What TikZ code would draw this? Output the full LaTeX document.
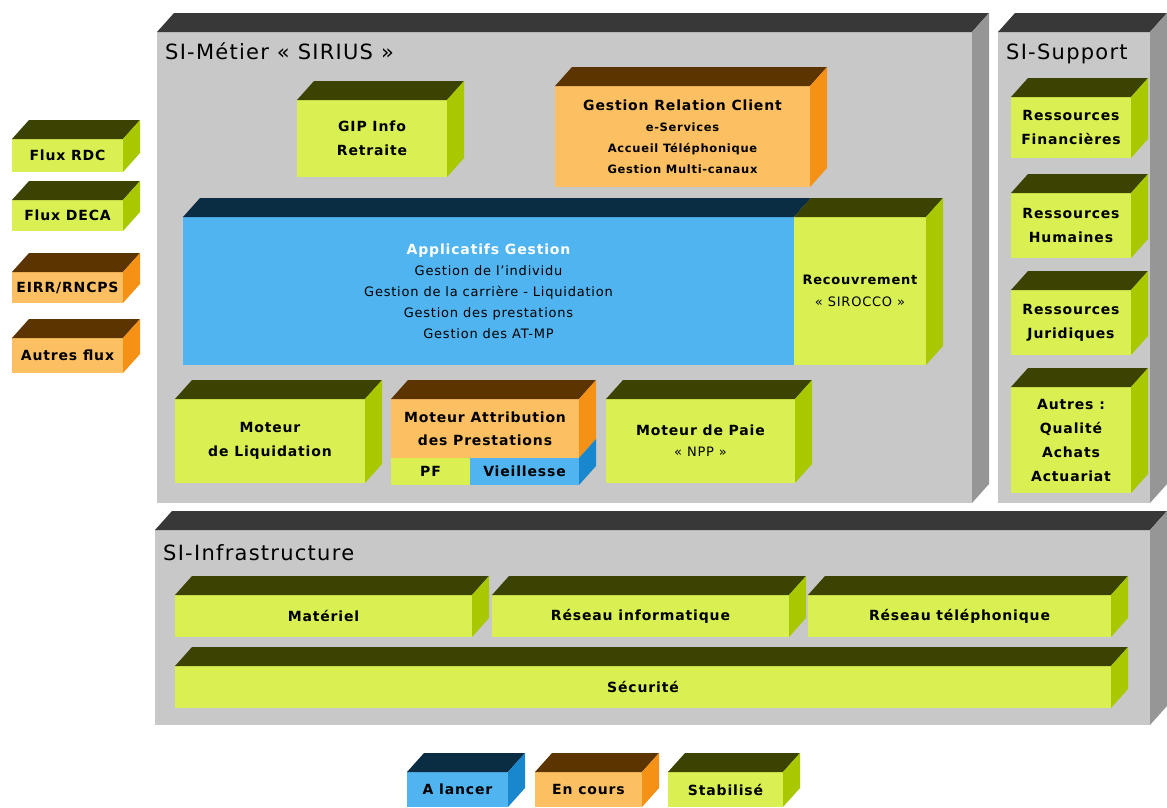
\documentclass[tikz,border=0pt]{standalone}
\usepackage{fontspec}
\setmainfont{DejaVu Sans}[LetterSpace=6]
\usepackage{xcolor}
\usepackage{tikz}

\definecolor{vertF}{RGB}{218,240,82}
\definecolor{vertT}{RGB}{60,66,0}
\definecolor{vertS}{RGB}{170,200,0}
\definecolor{orangeF}{RGB}{252,192,98}
\definecolor{orangeT}{RGB}{92,52,0}
\definecolor{orangeS}{RGB}{245,145,20}
\definecolor{bleuF}{RGB}{80,180,240}
\definecolor{bleuT}{RGB}{10,45,68}
\definecolor{bleuS}{RGB}{25,135,205}
\definecolor{grisF}{RGB}{200,200,200}
\definecolor{grisT}{RGB}{56,56,56}
\definecolor{grisS}{RGB}{150,150,150}

\newcommand{\lbl}{\fontsize{14}{24}\selectfont\bfseries}
\newcommand{\sous}{\fontsize{13}{21}\selectfont\mdseries}
% bloc 3D : [options] nom, couleur, x, y, largeur, hauteur, texte
\newcommand{\bloc}[8][]{%
  \node[face=#3, minimum width=#6pt, minimum height=#7pt, #1] (#2) at (#4,#5) {#8};
  \fill[#3T] (#2.north west) -- ++(17,-19) -- ([shift={(17,-19)}]#2.north east) -- (#2.north east) -- cycle;
  \fill[#3S] (#2.north east) -- ++(17,-19) -- ([shift={(17,-19)}]#2.south east) -- (#2.south east) -- cycle;
}

\begin{document}
\begin{tikzpicture}[x=1pt, y=-1pt,
    face/.style={fill=#1F, anchor=north west, inner sep=0pt, outer sep=0pt, align=center, font=\lbl},
    titre/.style={anchor=base west, inner sep=0pt, font=\fontsize{21}{24}\selectfont}]
  \useasboundingbox (0,0) rectangle (1167,807);
  \clip (0,0) rectangle (1167,807);
  %
  % containers
  \bloc{metier}{gris}{157}{32}{815}{471}{}
  \bloc{support}{gris}{998}{32}{152}{471}{}
  \bloc{infra}{gris}{155}{530}{995}{195}{}
  \node[titre] (tmetier) at (165,59) {SI-Métier « SIRIUS »};
  \node[titre] (tsupport) at (1006,59) {SI-Support};
  \node[titre] (tinfra) at (163,560) {SI-Infrastructure};
  %
  % flux
  \bloc{rdc}{vert}{12}{139}{111}{33}{Flux RDC}
  \bloc{deca}{vert}{12}{200}{111}{31}{Flux DECA}
  \bloc{eirr}{orange}{12}{272}{111}{31}{EIRR/RNCPS}
  \bloc{autres}{orange}{12}{338}{111}{35}{Autres flux}
  %
  % SI-Metier
  \bloc{gip}{vert}{297}{100}{150}{77}{GIP Info\\Retraite}
  \bloc[font=\fontsize{11.5}{21}\selectfont\bfseries]{grc}{orange}{555}{86}{255}{101}{%
    {\fontsize{14}{21}\selectfont Gestion Relation Client}\\e-Services\\Accueil Téléphonique\\Gestion Multi-canaux}
  \node[face=bleu, minimum width=611pt, minimum height=148pt, font=\sous] (appli) at (183,217) {%
    {\fontsize{14}{21}\selectfont\bfseries\color{white} Applicatifs Gestion}\\Gestion de l'individu\\
    Gestion de la carrière - Liquidation\\Gestion des prestations\\Gestion des AT-MP};
  \fill[bleuT] (appli.north west) -- ++(17,-19) -- ([shift={(17,-19)}]appli.north east) -- (appli.north east) -- cycle;
  \bloc[font=\fontsize{13}{22}\selectfont]{recouv}{vert}{794}{217}{132}{148}{{\bfseries Recouvrement}\\« SIROCCO »}
  %
  \bloc{liquid}{vert}{175}{399}{190}{84}{Moteur\\de Liquidation}
  \node[face=orange, minimum width=188pt, minimum height=59pt, font=\fontsize{14}{23}\selectfont\bfseries] (attrib) at (391,399) {Moteur Attribution\\des Prestations};
  \node[face=vert, minimum width=79pt, minimum height=27pt] (pf) at (attrib.south west) {PF};
  \node[face=bleu, minimum width=109pt, minimum height=27pt] (vieil) at (pf.north east) {Vieillesse};
  \fill[orangeT] (attrib.north west) -- ++(17,-19) -- ([shift={(17,-19)}]attrib.north east) -- (attrib.north east) -- cycle;
  \fill[orangeS] (attrib.north east) -- ++(17,-19) -- ([shift={(17,-19)}]attrib.south east) -- (attrib.south east) -- cycle;
  \fill[bleuS] (vieil.north east) -- ++(17,-19) -- ([shift={(17,-19)}]vieil.south east) -- (vieil.south east) -- cycle;
  \bloc[font=\fontsize{13}{21}\selectfont]{paie}{vert}{606}{399}{189}{84}{{\fontsize{14}{21}\selectfont\bfseries Moteur de Paie}\\« NPP »}
  %
  % SI-Support
  \bloc{rfin}{vert}{1011}{97}{120}{61}{Ressources\\Financières}
  \bloc{rhum}{vert}{1011}{193}{120}{65}{Ressources\\Humaines}
  \bloc{rjur}{vert}{1011}{290}{120}{65}{Ressources\\Juridiques}
  \bloc{raut}{vert}{1011}{387}{120}{106}{Autres :\\Qualité\\Achats\\Actuariat}
  %
  % SI-Infrastructure
  \bloc{materiel}{vert}{175}{595}{297}{42}{Matériel}
  \bloc{resinfo}{vert}{492}{595}{297}{42}{Réseau informatique}
  \bloc{restel}{vert}{808}{595}{303}{42}{Réseau téléphonique}
  \bloc{securite}{vert}{175}{666}{936}{42}{Sécurité}
  %
  % legende
  \bloc{alancer}{bleu}{407}{772}{101}{35}{A lancer}
  \bloc{encours}{orange}{535}{772}{107}{35}{En cours}
  \bloc{stabilise}{vert}{668}{772}{115}{35}{Stabilisé}
\end{tikzpicture}
\end{document}
